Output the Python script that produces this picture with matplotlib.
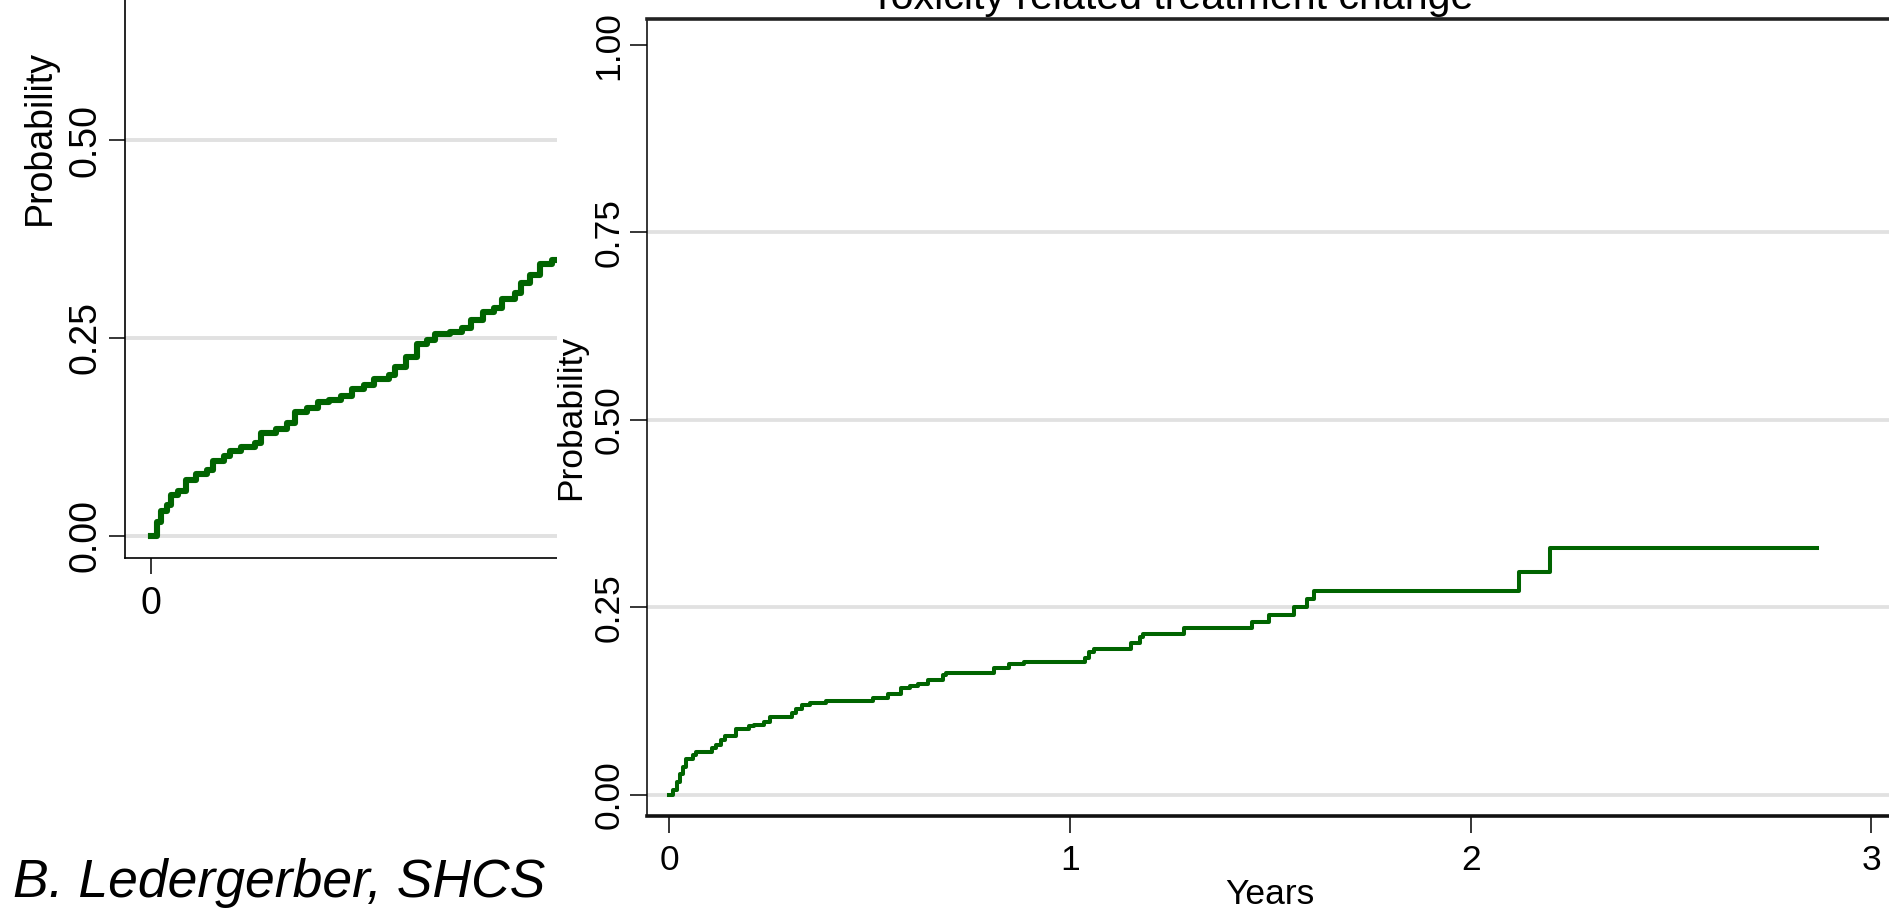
import matplotlib
matplotlib.use("Agg")
import matplotlib.pyplot as plt
from matplotlib.patches import Rectangle

plt.rcParams['font.family'] = ['Liberation Sans', 'DejaVu Sans']

# background chart (left, partly hidden): cumulative probability over years
left_years = [0.000, 0.012, 0.020, 0.033, 0.041, 0.057, 0.073, 0.094, 0.118, 0.130,
              0.155, 0.167, 0.191, 0.220, 0.232, 0.265, 0.289, 0.305, 0.330, 0.354,
              0.378, 0.403, 0.427, 0.452, 0.472, 0.504, 0.517, 0.541, 0.565, 0.586,
              0.602, 0.635, 0.659, 0.679, 0.704, 0.728, 0.744, 0.773, 0.785, 0.805,
              0.826, 0.850, 0.870]
left_prob = [0.000, 0.018, 0.031, 0.039, 0.052, 0.057, 0.070, 0.078, 0.083, 0.094,
             0.101, 0.107, 0.112, 0.117, 0.130, 0.135, 0.143, 0.156, 0.161, 0.169,
             0.172, 0.177, 0.185, 0.190, 0.198, 0.203, 0.213, 0.226, 0.242, 0.247,
             0.255, 0.257, 0.262, 0.273, 0.283, 0.288, 0.299, 0.307, 0.320, 0.330,
             0.343, 0.348, 0.353]

# foreground chart: toxicity related treatment change
tox_years = [0, 0.010, 0.018, 0.027, 0.035, 0.042, 0.060, 0.067, 0.106, 0.117,
             0.130, 0.138, 0.167, 0.200, 0.212, 0.236, 0.250, 0.306, 0.317, 0.330,
             0.350, 0.392, 0.508, 0.545, 0.578, 0.600, 0.620, 0.645, 0.682, 0.690,
             0.810, 0.848, 0.885, 1.037, 1.047, 1.060, 1.151, 1.175, 1.182, 1.284,
             1.453, 1.497, 1.559, 1.591, 1.609, 2.121, 2.198, 2.864]
tox_prob = [0, 0.006, 0.017, 0.028, 0.037, 0.048, 0.053, 0.057, 0.062, 0.066,
            0.073, 0.078, 0.087, 0.091, 0.093, 0.097, 0.104, 0.109, 0.114, 0.120,
            0.123, 0.125, 0.129, 0.134, 0.142, 0.145, 0.148, 0.153, 0.160, 0.163,
            0.169, 0.174, 0.177, 0.182, 0.191, 0.195, 0.202, 0.211, 0.215, 0.223,
            0.231, 0.240, 0.250, 0.261, 0.272, 0.297, 0.329, 0.329]

prob_ticks = [0, 0.25, 0.5, 0.75, 1.0]
prob_labels = ["0.00", "0.25", "0.50", "0.75", "1.00"]
year_ticks = [0, 1, 2, 3]

W, H = 1890, 908
green = "#006400"
gridc = "#e1e1e1"

fig = plt.figure(figsize=(W / 100, H / 100), dpi=100)


def box(x0, top, x1, bottom):
    return [x0 / W, (H - bottom) / H, (x1 - x0) / W, (bottom - top) / H]


# ---- left (background) chart
ax1 = fig.add_axes(box(125.4, -283.3, 1590, 558), zorder=0)
ax1.step(left_years, left_prob, where="post", color=green, lw=4.4, zorder=3)
ax1.set_xlim(-0.055, 3.055)
ax1.set_ylim(-0.028, 1.035)
ax1.set_yticks(prob_ticks, prob_labels)
ax1.set_xticks(year_ticks)
for y in prob_ticks[:-1]:
    ax1.axhline(y, color=gridc, lw=2.8, zorder=1)
for s in ["top", "right"]:
    ax1.spines[s].set_visible(False)
for s in ["left", "bottom"]:
    ax1.spines[s].set_linewidth(1.2)
ax1.tick_params(axis="both", length=11.5, width=1.1, labelsize=27, pad=8.6)
ax1.tick_params(axis="y", labelrotation=90, pad=4.3)
plt.setp(ax1.get_yticklabels(), va="center")
ax1.set_ylabel("Probability", fontsize=27)
ax1.yaxis.label.set_verticalalignment("baseline")
ax1.yaxis.set_label_coords((50 - 125.4) / (1590 - 125.4), 0.5)

# white sheet of the second picture laid over the first one
sheet = Rectangle((557 / W, 0), 1 - 557 / W, 1, transform=fig.transFigure,
                  facecolor="white", edgecolor="none", zorder=1)
fig.add_artist(sheet)

# ---- right (foreground) chart
ax2 = fig.add_axes(box(647.3, 19, 1893, 816), zorder=2)
ax2.step(tox_years, tox_prob, where="post", color=green, lw=2.9, zorder=3)
ax2.set_xlim(-0.055, 3.054)
ax2.set_ylim(-0.0284, 1.0348)
ax2.set_yticks(prob_ticks, prob_labels)
ax2.set_xticks(year_ticks)
for y in prob_ticks[:-1]:
    ax2.axhline(y, color=gridc, lw=2.7, zorder=1)
ax2.spines["right"].set_visible(False)
ax2.spines["left"].set_linewidth(1.1)
ax2.spines["top"].set_linewidth(2.6)
ax2.spines["bottom"].set_linewidth(2.6)
ax2.spines["top"].set_color("#222222")
ax2.spines["bottom"].set_color("#111111")
ax2.tick_params(axis="both", length=12.2, width=1.1, labelsize=25.5, pad=8.3)
ax2.tick_params(axis="y", labelrotation=90, pad=3.6)
plt.setp(ax2.get_yticklabels(), va="center")
ax2.set_xlabel("Years", fontsize=25.5)
ax2.xaxis.set_label_coords(0.5, (816 - 878) / 797)
ax2.set_ylabel("Probability", fontsize=25.5)
ax2.yaxis.label.set_verticalalignment("baseline")
ax2.yaxis.set_label_coords((580 - 647.3) / (1893 - 647.3), 0.5)
ax2.yaxis.label.set_clip_path(sheet)

fig.text(1172 / W, (H - 9) / H, "Toxicity related treatment change",
         ha="center", va="baseline", fontsize=29.6, zorder=4)

fig.text(13 / W, (H - 897) / H, "B. Ledergerber, SHCS", ha="left", va="baseline",
         fontsize=38.5, style="italic", zorder=4)

fig.savefig("out.png", dpi=100, facecolor="white")
